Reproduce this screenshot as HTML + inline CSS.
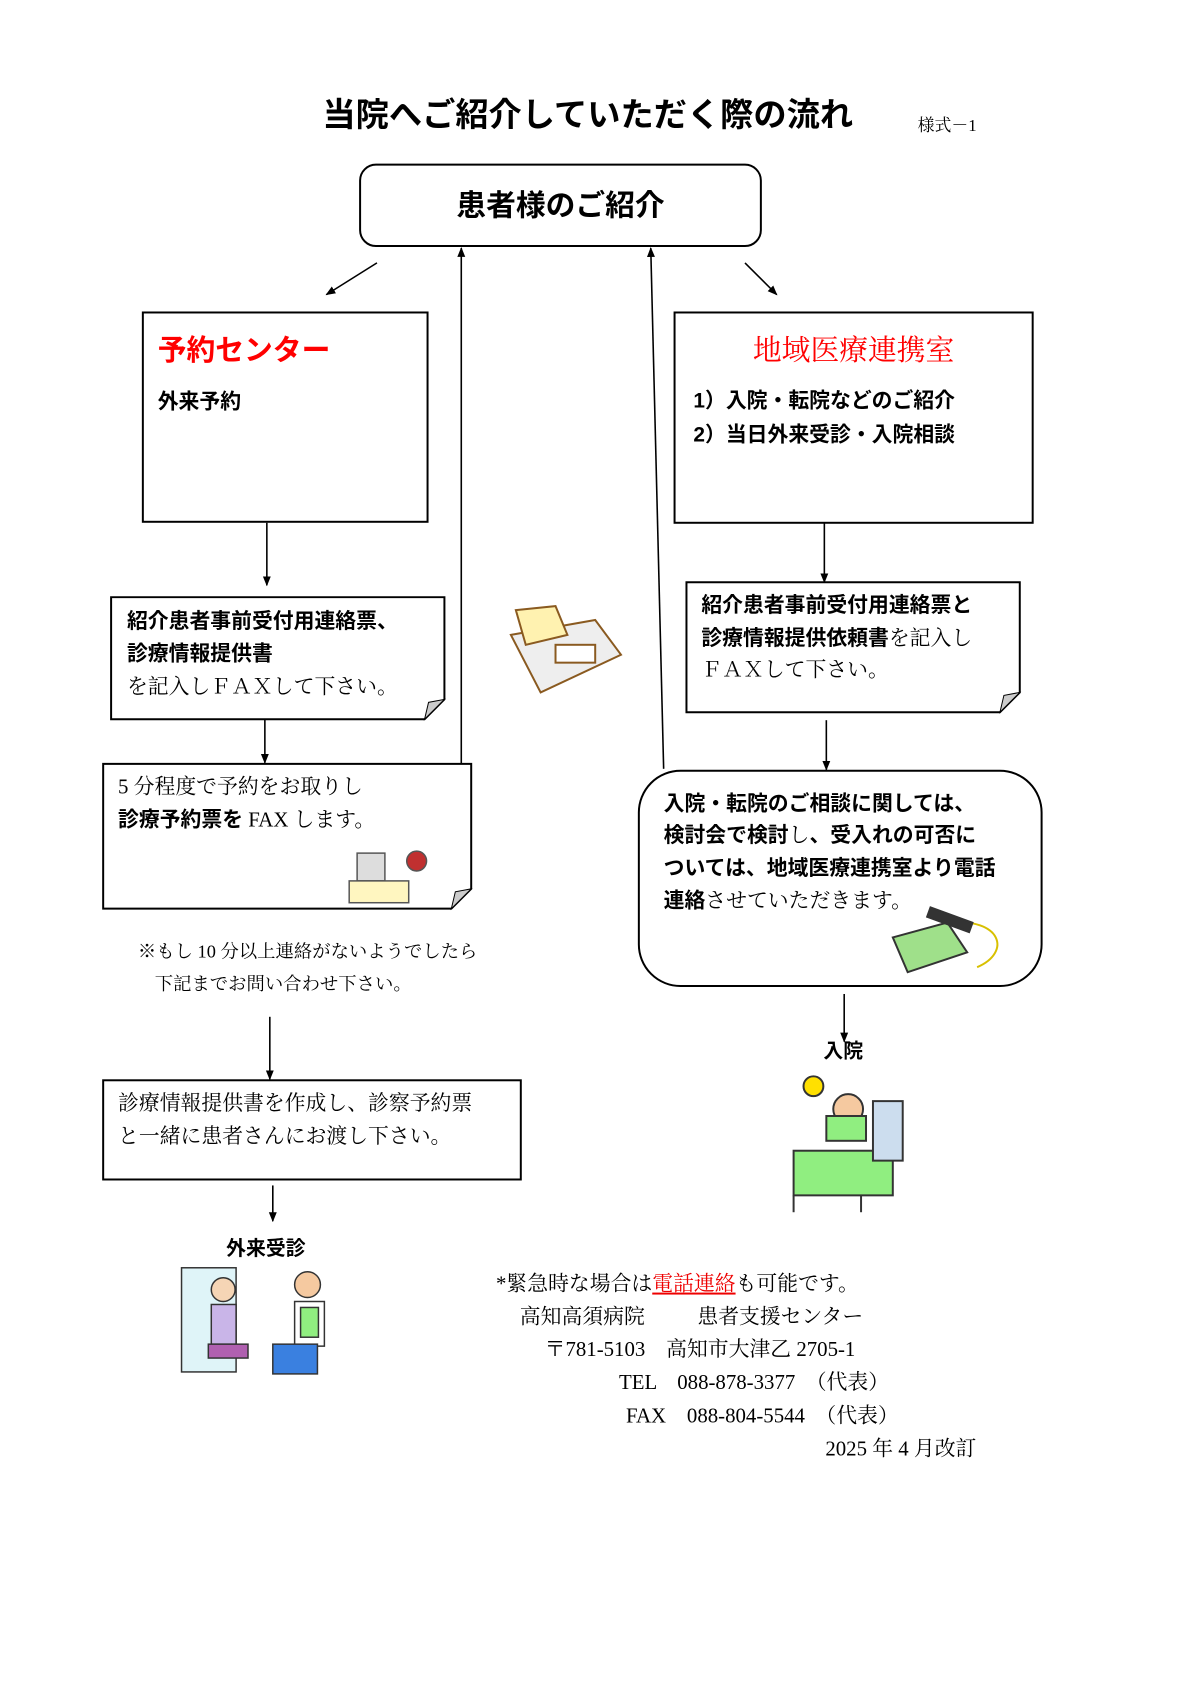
<!DOCTYPE html>
<html><head><meta charset="utf-8"><style>
body{margin:0;background:#fff}
#w{position:relative;width:1200px;height:1697px;overflow:hidden;background:#fff}
#p{position:absolute;left:0;top:0;width:1200px;height:1697px;transform:scale(0.992);transform-origin:0 0}
.t{position:absolute;white-space:nowrap;line-height:1;color:#000}
.g{font-family:"Liberation Sans","Noto Sans CJK JP",sans-serif;font-weight:bold}
.m{font-family:"Liberation Serif","Noto Serif CJK SC",serif;font-weight:normal}
svg{position:absolute;left:0;top:0}
</style></head><body><div id="w"><div id="p">
<svg width="1200" height="1697" viewBox="0 0 1200 1697">
<defs><marker id="a" markerWidth="10" markerHeight="10" refX="9" refY="5" orient="auto" markerUnits="userSpaceOnUse"><path d="M0,1 L10,5 L0,9 z" fill="#000"/></marker></defs>
<g fill="#fff" stroke="#000" stroke-width="2">
<rect x="363" y="166" width="404" height="82" rx="16"/>
<rect x="144" y="315" width="287" height="211"/>
<rect x="680" y="315" width="361" height="212"/>
<path d="M112,602 H448 V705 L428,725 H112 Z"/>
<path d="M104,770 H475 V896 L455,916 H104 Z"/>
<path d="M692,587 H1028 V698 L1008,718 H692 Z"/>
<rect x="644" y="777" width="406" height="217" rx="42"/>
<rect x="104" y="1089" width="421" height="100"/>
</g>
<g fill="#ccc" stroke="#000" stroke-width="1">
<path d="M448,705 L428,725 L432,708 Z"/><path d="M475,896 L455,916 L459,899 Z"/><path d="M1028,698 L1008,718 L1012,701 Z"/>
</g>
<g stroke="#000" stroke-width="1.6" fill="none" marker-end="url(#a)">
<line x1="380" y1="265" x2="329" y2="297"/>
<line x1="751" y1="265" x2="783" y2="297"/>
<line x1="465" y1="770" x2="465" y2="250"/>
<line x1="669" y1="775" x2="656" y2="250"/>
<line x1="269" y1="527" x2="269" y2="590"/>
<line x1="267" y1="725" x2="267" y2="769"/>
<line x1="272" y1="1025" x2="272" y2="1088"/>
<line x1="275" y1="1195" x2="275" y2="1231"/>
<line x1="831" y1="527" x2="831" y2="587"/>
<line x1="833" y1="726" x2="833" y2="776"/>
<line x1="851" y1="1002" x2="851" y2="1050"/>
</g>
<g stroke="#8a5a20" stroke-width="2">
<path d="M515,640 L600,625 L626,660 L545,698 Z" fill="#eee"/>
<path d="M520,615 L560,611 L572,640 L530,650 Z" fill="#fff2b0"/>
<rect x="560" y="650" width="40" height="18" fill="#fff"/>
</g>
<g stroke="#555" stroke-width="1.5">
<rect x="360" y="860" width="28" height="28" fill="#ddd"/>
<rect x="352" y="888" width="60" height="22" fill="#fff6c0"/>
<circle cx="420" cy="868" r="10" fill="#c03030"/>
</g>
<g stroke="#333" stroke-width="2">
<path d="M900,945 L955,930 L975,960 L915,980 Z" fill="#9fe08a"/>
<path d="M955,930 C1010,925 1020,960 985,975" fill="none" stroke="#d8c000"/>
<rect x="935" y="922" width="45" height="10" fill="#333" transform="rotate(20 957 927)"/>
</g>
<g stroke="#333" stroke-width="2">
<rect x="800" y="1160" width="100" height="45" fill="#90ee80"/>
<rect x="880" y="1110" width="30" height="60" fill="#cde"/>
<circle cx="855" cy="1118" r="15" fill="#f5c9a0"/>
<rect x="833" y="1125" width="40" height="25" fill="#90ee80"/>
<circle cx="820" cy="1095" r="10" fill="#ffe000"/>
<line x1="800" y1="1205" x2="800" y2="1222"/><line x1="868" y1="1205" x2="868" y2="1222"/>
</g>
<g stroke="#333" stroke-width="1.5">
<rect x="183" y="1278" width="55" height="105" fill="#dff4f8"/>
<circle cx="225" cy="1300" r="12" fill="#f5d5b5"/>
<rect x="213" y="1315" width="25" height="40" fill="#c9b5e8"/>
<rect x="210" y="1355" width="40" height="14" fill="#b060b0"/>
<circle cx="310" cy="1295" r="13" fill="#f5c9a0"/>
<rect x="297" y="1312" width="30" height="45" fill="#fff"/>
<rect x="303" y="1318" width="18" height="30" fill="#90ee80"/>
<rect x="275" y="1355" width="45" height="30" fill="#3a80e0"/>
</g>
</svg>

<div class="t g" style="left:325px;top:100px;font-size:33.5px">当院へご紹介していただく際の流れ</div>
<div class="t m" style="left:925px;top:118px;font-size:17px">様式－1</div>
<div class="t g" style="left:363px;width:404px;text-align:center;top:193px;font-size:30px">患者様のご紹介</div>

<div class="t g" style="left:159px;top:340px;font-size:29px;color:#f00">予約センター</div>
<div class="t g" style="left:159px;top:395px;font-size:21px">外来予約</div>

<div class="t m" style="left:680px;width:361px;text-align:center;top:340px;font-size:29px;color:#f00">地域医療連携室</div>
<div class="t g" style="left:699px;top:394px;font-size:21px">1）入院・転院などのご紹介</div>
<div class="t g" style="left:699px;top:428px;font-size:21px">2）当日外来受診・入院相談</div>

<div class="t g" style="left:128px;top:616px;font-size:21px">紹介患者事前受付用連絡票、</div>
<div class="t g" style="left:128px;top:649px;font-size:21px">診療情報提供書</div>
<div class="t m" style="left:128px;top:682px;font-size:21px">を記入しＦＡＸして下さい。</div>

<div class="t m" style="left:119px;top:783px;font-size:21px">5 分程度で予約をお取りし</div>
<div class="t m" style="left:119px;top:816px;font-size:21px"><b class="g">診療予約票を</b> FAX します。</div>

<div class="t m" style="left:139px;top:951px;font-size:18.5px">※もし 10 分以上連絡がないようでしたら</div>
<div class="t m" style="left:156px;top:984px;font-size:18.5px">下記までお問い合わせ下さい。</div>

<div class="t m" style="left:119px;top:1102px;font-size:21px">診療情報提供書を作成し、診察予約票</div>
<div class="t m" style="left:119px;top:1135px;font-size:21px">と一緒に患者さんにお渡し下さい。</div>
<div class="t g" style="left:228px;top:1249px;font-size:20px">外来受診</div>

<div class="t g" style="left:707px;top:600px;font-size:21px">紹介患者事前受付用連絡票と</div>
<div class="t m" style="left:707px;top:633px;font-size:21px"><b class="g">診療情報提供依頼書</b>を記入し</div>
<div class="t m" style="left:707px;top:665px;font-size:21px">ＦＡＸして下さい。</div>

<div class="t g" style="left:669px;top:800px;font-size:21px">入院・転院のご相談に関しては、</div>
<div class="t g" style="left:669px;top:832px;font-size:21px">検討会で検討<span class="m">し</span>、受入れの可否に</div>
<div class="t g" style="left:669px;top:865px;font-size:21px">ついては、地域医療連携室より電話</div>
<div class="t m" style="left:669px;top:898px;font-size:21px"><b class="g">連絡</b>させていただきます。</div>
<div class="t g" style="left:830px;top:1050px;font-size:20px">入院</div>

<div class="t m" style="left:500px;top:1284px;font-size:21px">*緊急時な場合は<span style="color:#e00;text-decoration:underline">電話連絡</span>も可能です。</div>
<div class="t m" style="left:524px;top:1317px;font-size:21px">高知高須病院</div>
<div class="t m" style="left:703px;top:1317px;font-size:21px">患者支援センター</div>
<div class="t m" style="left:549px;top:1350px;font-size:21px">〒781-5103　高知市大津乙 2705-1</div>
<div class="t m" style="left:624px;top:1383px;font-size:21px">TEL　088-878-3377　（代表）</div>
<div class="t m" style="left:631px;top:1417px;font-size:21px">FAX　088-804-5544　（代表）</div>
<div class="t m" style="left:832px;top:1450px;font-size:21px">2025 年 4 月改訂</div>
</div></div></body></html>
